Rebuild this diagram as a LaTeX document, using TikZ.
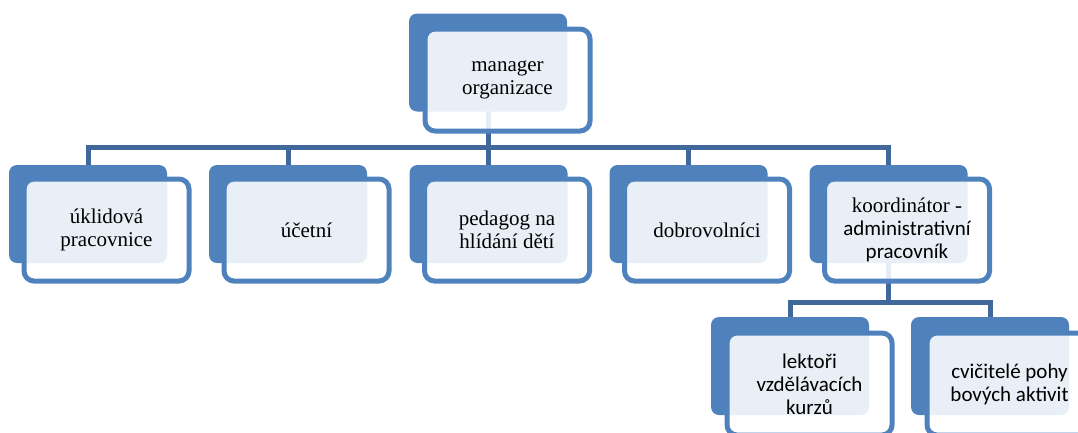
\documentclass[tikz,border=0pt]{standalone}
\usepackage{fontspec}
\setmainfont{Liberation Serif}
\newfontfamily\timesfont{Liberation Serif}
\newfontfamily\calibfont{Carlito}
\definecolor{boxblue}{HTML}{4F81BD}
\definecolor{connblue}{HTML}{41689A}
\begin{document}
\begin{tikzpicture}[x=1pt,y=-1pt,
  backbox/.style={rectangle, fill=boxblue, rounded corners=8pt, minimum width=158pt, minimum height=98pt, inner sep=0pt, outer sep=0pt},
  frontbox/.style={rectangle, draw=boxblue, line width=5pt, fill=white, fill opacity=0.88, text opacity=1, rounded corners=10pt, minimum width=165pt, minimum height=102pt, inner sep=0pt, outer sep=0pt, align=center, text=black, font=\timesfont\fontsize{21}{23}\selectfont},
  conn/.style={draw=connblue, line width=5pt}]
\useasboundingbox (0,0) rectangle (1078,432);

% connectors drawn first (covered by the boxes)
\coordinate (bus1) at (488,147);
\coordinate (bus2) at (888.5,302);
\coordinate (tm) at (488,62.5);
\coordinate (t1) at (88,165);
\coordinate (t2) at (288,165);
\coordinate (t3) at (488.5,165);
\coordinate (t4) at (688.5,165);
\coordinate (t5) at (888.5,165);
\coordinate (m5) at (888.5,214);
\coordinate (u1) at (790,317);
\coordinate (u2) at (990,317);
\draw[conn] (tm) -- (bus1);
\draw[conn] (t1) |- (bus1) -| (t5);
\draw[conn] (t2) -- (t2 |- bus1);
\draw[conn] (t3) -- (t3 |- bus1);
\draw[conn] (t4) -- (t4 |- bus1);
\draw[conn] (m5) -- (bus2);
\draw[conn] (u1) |- (bus2) -| (u2);

% back boxes
\node[backbox] (bm) at (tm) {};
\node[backbox] (b1) at (88,214) {};
\node[backbox] (b2) at (288,214) {};
\node[backbox] (b3) at (488.5,214) {};
\node[backbox] (b4) at (688.5,214) {};
\node[backbox] (b5) at (m5) {};
\node[backbox] (c1) at (790,366) {};
\node[backbox] (c2) at (990,366) {};

% front boxes
\node[frontbox] (fm) at (507.5,80) {manager\\organizace};
\node[frontbox] (f1) at (106.5,230) {úklidová\\pracovnice};
\node[frontbox] (f2) at (306.5,230) {účetní};
\node[frontbox] (f3) at (507,230) {pedagog na\\hlídání dětí};
\node[frontbox] (f4) at (707,230) {dobrovolníci};
\node[frontbox] (f5) at (907,230) {koordinátor -\\{\calibfont administrativní}\\{\calibfont pracovník}};
\node[frontbox, font=\calibfont\fontsize{21}{23}\selectfont] (g1) at (809.5,384) {lektoři\\vzdělávacích\\kurzů};
\node[frontbox, font=\calibfont\fontsize{21}{23}\selectfont] (g2) at (1009.5,384) {cvičitelé pohy\\bových aktivit};
\end{tikzpicture}
\end{document}
